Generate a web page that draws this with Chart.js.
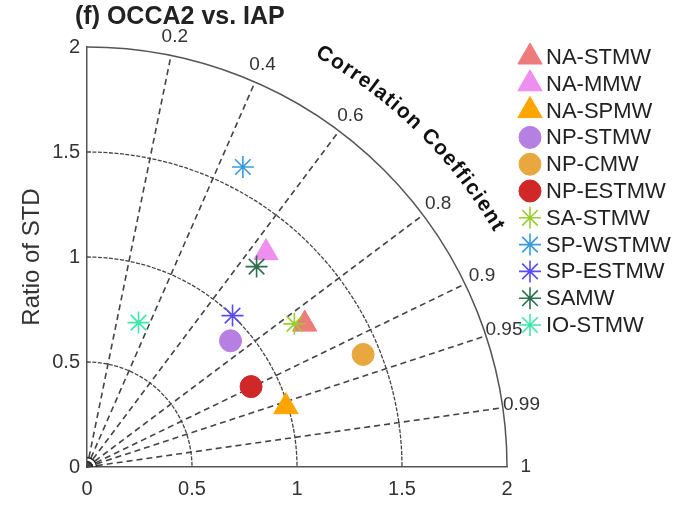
<!DOCTYPE html>
<html>
<head>
<meta charset="utf-8">
<script src="https://cdn.jsdelivr.net/npm/chart.js@4.4.1/dist/chart.umd.min.js"></script>
<style>
  html, body { margin: 0; padding: 0; background: #fff; }
  #wrap { width: 680px; height: 505px; }
</style>
</head>
<body>
<div id="wrap"><canvas id="taylorChart" width="680" height="505"></canvas></div>
<script>
// water masses, ratio of std and correlation
const categories = ['NA-STMW', 'NA-MMW', 'NA-SPMW', 'NP-STMW', 'NP-CMW', 'NP-ESTMW',
                    'SA-STMW', 'SP-WSTMW', 'SP-ESTMW', 'SAMW', 'IO-STMW'];
const stdRatio = [1.24, 1.33, 0.99, 0.91, 1.42, 0.87, 1.20, 1.61, 1.00, 1.25, 0.73];
const corrCoef = [0.836, 0.641, 0.957, 0.751, 0.926, 0.898, 0.823, 0.461, 0.693, 0.646, 0.336];

const corrLines = [0.2, 0.4, 0.6, 0.8, 0.9, 0.95, 0.99];
const corrLabels = ['0.2', '0.4', '0.6', '0.8', '0.9', '0.95', '0.99', '1'];
const stdArcs = [0.5, 1, 1.5];
const stdMax = 2;

const markers = ['triangle', 'triangle', 'triangle', 'circle', 'circle', 'circle',
                 'star', 'star', 'star', 'star', 'star'];
const colors = ['#EE7B7B', '#EE8EEE', '#FFA500', '#B67FE2', '#E8A83F', '#D02828',
                '#9ACD32', '#3A9AD9', '#5A4CF4', '#2E6E4E', '#3EE8A8'];
const sizes = { triangle: 14, circle: 11, star: 11 };

const datasets = categories.map((name, i) => {
    const r = stdRatio[i], c = corrCoef[i];
    const isStar = markers[i] === 'star';
    return {
        label: name,
        data: [{ x: r * c, y: r * Math.sqrt(1 - c * c) }],
        pointStyle: markers[i],
        pointRadius: sizes[markers[i]],
        backgroundColor: colors[i],
        borderColor: colors[i],
        borderWidth: isStar ? 1.6 : 1,
        order: categories.length - i
    };
});

const taylorPlugin = {
    id: 'taylor',
    beforeDatasetsDraw(chart) {
        const ctx = chart.ctx;
        const xs = chart.scales.x, ys = chart.scales.y;
        const ox = xs.getPixelForValue(0), oy = ys.getPixelForValue(0);
        const rx = v => xs.getPixelForValue(v) - ox;
        const ry = v => oy - ys.getPixelForValue(v);
        ctx.save();
        // std arcs
        ctx.strokeStyle = '#444';
        ctx.lineWidth = 1.3;
        ctx.setLineDash([4, 1.5]);
        stdArcs.forEach(s => {
            ctx.beginPath();
            ctx.ellipse(ox, oy, rx(s), ry(s), 0, -Math.PI / 2, 0);
            ctx.stroke();
        });
        // correlation rays
        ctx.lineWidth = 1.6;
        ctx.setLineDash([6, 4]);
        corrLines.forEach(c => {
            const s = Math.sqrt(1 - c * c);
            ctx.beginPath();
            ctx.moveTo(ox, oy);
            ctx.lineTo(ox + rx(stdMax) * c, oy - ry(stdMax) * s);
            ctx.stroke();
        });
        // outer arc
        ctx.setLineDash([]);
        ctx.strokeStyle = '#555';
        ctx.lineWidth = 1.5;
        ctx.beginPath();
        ctx.ellipse(ox, oy, rx(stdMax), ry(stdMax), 0, -Math.PI / 2, 0);
        ctx.stroke();
        // small arcs at the origin
        ctx.strokeStyle = '#222';
        [0.025, 0.045].forEach(s => {
            ctx.beginPath();
            ctx.ellipse(ox, oy, rx(s), ry(s), 0, -Math.PI / 2, 0);
            ctx.stroke();
        });
        ctx.restore();
    },
    afterDraw(chart) {
        const ctx = chart.ctx;
        const xs = chart.scales.x, ys = chart.scales.y;
        const ox = xs.getPixelForValue(0), oy = ys.getPixelForValue(0);
        const rpx = xs.getPixelForValue(1) - ox;
        ctx.save();

        // correlation labels
        ctx.fillStyle = '#333';
        ctx.font = '19px "Liberation Sans", Arial, sans-serif';
        ctx.textAlign = 'center';
        ctx.textBaseline = 'middle';
        corrLabels.forEach(lab => {
            const c = parseFloat(lab);
            const s = Math.sqrt(1 - c * c);
            const R = 2.09 * rpx;
            ctx.fillText(lab, ox + R * c, oy - R * s);
        });

        // curved axis name
        const text = 'Correlation Coefficient';
        ctx.font = 'bold 21px "Liberation Sans", Arial, sans-serif';
        ctx.fillStyle = '#111';
        const R = 2.265 * rpx;
        const a0 = 61 * Math.PI / 180, a1 = 30 * Math.PI / 180;
        const widths = [...text].map(ch => ctx.measureText(ch).width);
        const total = widths.reduce((a, b) => a + b, 0);
        const gap = ((a0 - a1) * R - total) / (text.length - 1);
        let pos = 0;
        [...text].forEach((ch, i) => {
            const th = a0 - (pos + widths[i] / 2) / R;
            ctx.save();
            ctx.translate(ox + R * Math.cos(th), oy - R * Math.sin(th));
            ctx.rotate(Math.PI / 2 - th);
            ctx.fillText(ch, 0, 0);
            ctx.restore();
            pos += widths[i] + gap;
        });

        // title
        ctx.font = 'bold 25px "Liberation Sans", Arial, sans-serif';
        ctx.fillStyle = '#222';
        ctx.textAlign = 'left';
        ctx.fillText('(f) OCCA2 vs. IAP', 75, 17);

        // legend
        const lx = 530, ly = 57, step = 26.8;
        ctx.font = '22px "Liberation Sans", Arial, sans-serif';
        categories.forEach((name, i) => {
            const y = ly + i * step;
            const ds = chart.data.datasets[i];
            ctx.fillStyle = ds.backgroundColor;
            ctx.strokeStyle = ds.borderColor;
            ctx.lineWidth = ds.borderWidth;
            Chart.helpers.drawPoint(ctx, {
                pointStyle: ds.pointStyle,
                radius: ds.pointRadius,
                rotation: 0,
                borderWidth: ds.borderWidth
            }, lx, y);
            ctx.fillStyle = '#222';
            ctx.fillText(name, 546, y + 1);
        });
        ctx.restore();
    }
};

const tickFont = { size: 20, family: '"Liberation Sans", Arial, sans-serif' };

new Chart(document.getElementById('taylorChart'), {
    type: 'scatter',
    data: { datasets: datasets },
    options: {
        responsive: false,
        animation: false,
        devicePixelRatio: 1,
        events: [],
        layout: { padding: { left: 14, right: 173, top: 47, bottom: 0 } },
        scales: {
            x: {
                type: 'linear',
                min: 0,
                max: stdMax,
                afterFit: s => { s.height = 38; },
                grid: { display: false, drawTicks: false },
                border: { color: '#555', width: 1.5 },
                ticks: {
                    stepSize: 0.5,
                    padding: 10,
                    color: '#333',
                    font: tickFont,
                    callback: v => String(v)
                }
            },
            y: {
                type: 'linear',
                min: 0,
                max: stdMax,
                afterFit: s => { s.width = 73; },
                grid: { display: false, drawTicks: false },
                border: { color: '#555', width: 1.5 },
                ticks: {
                    stepSize: 0.5,
                    padding: 7,
                    color: '#333',
                    font: tickFont,
                    callback: v => String(v)
                },
                title: {
                    display: true,
                    text: 'Ratio of STD',
                    color: '#333',
                    padding: { top: 4, bottom: 0 },
                    font: { size: 24, family: '"Liberation Sans", Arial, sans-serif' }
                }
            }
        },
        plugins: {
            legend: { display: false },
            tooltip: { enabled: false },
            title: { display: false }
        }
    },
    plugins: [taylorPlugin]
});
</script>
</body>
</html>
